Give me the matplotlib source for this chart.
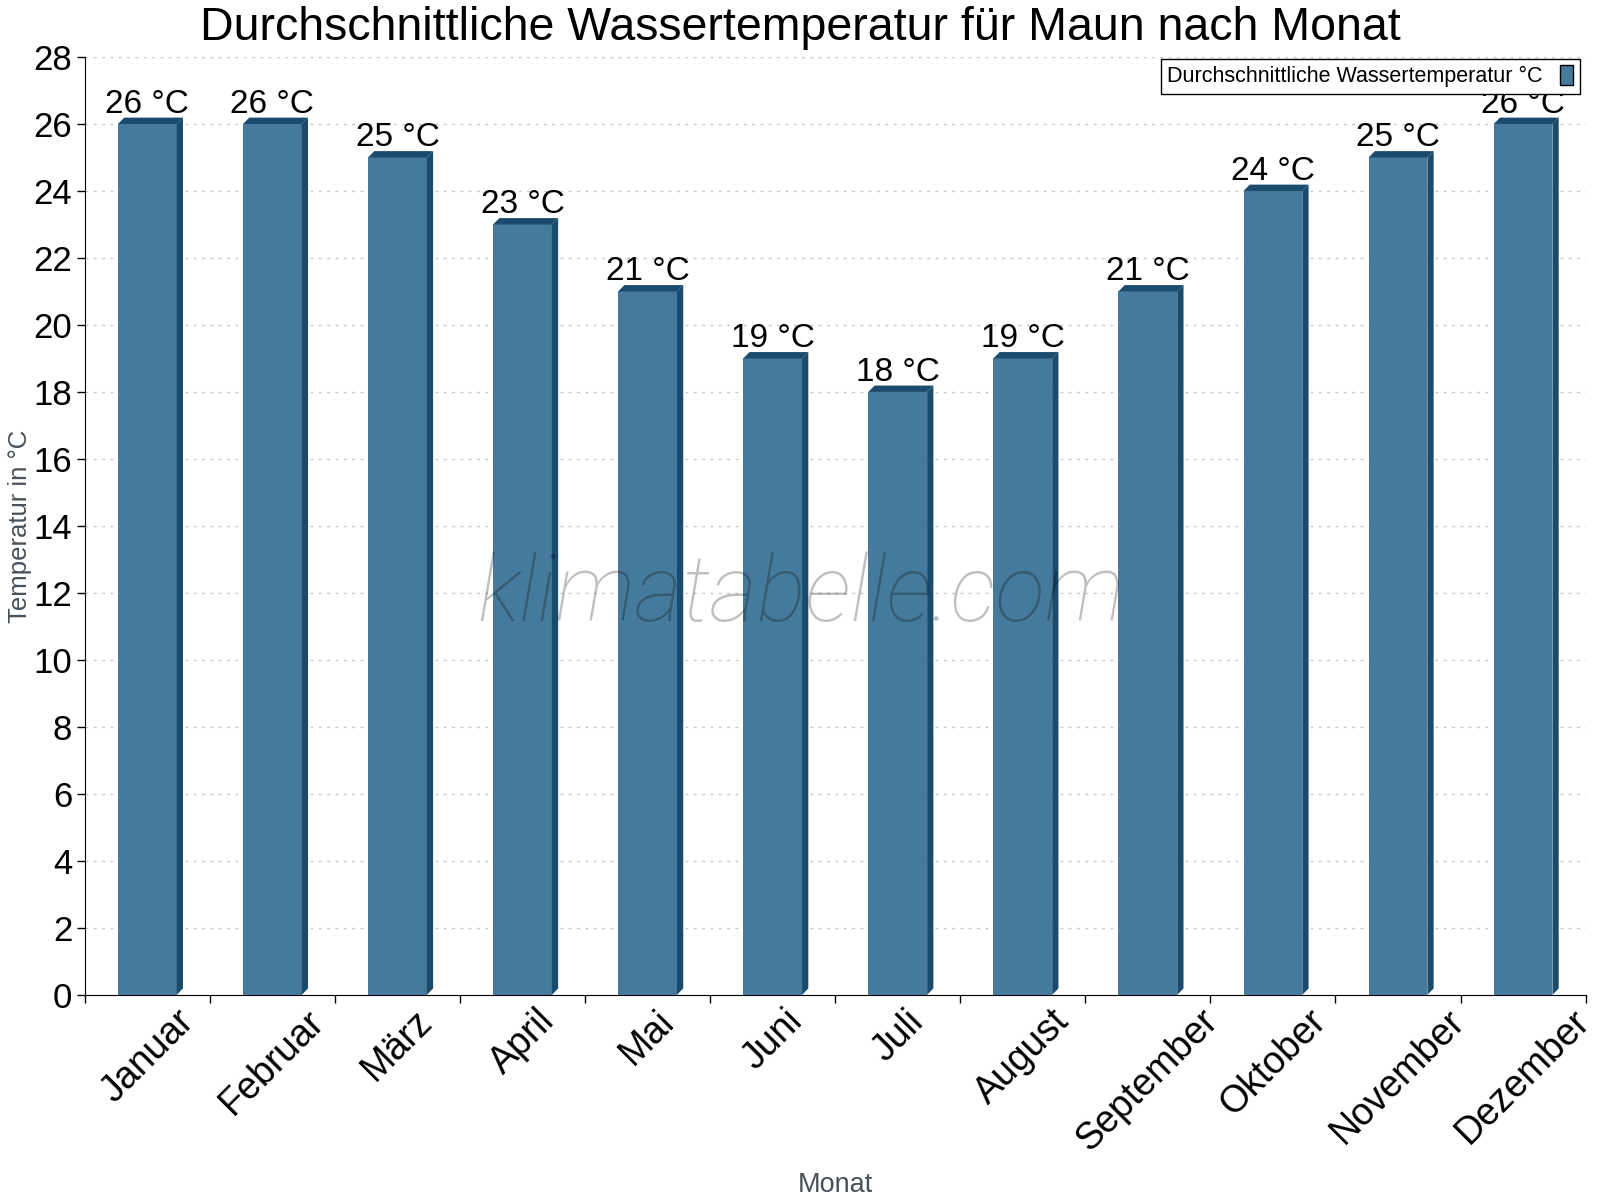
import matplotlib
matplotlib.use("Agg")
import matplotlib.pyplot as plt
from matplotlib.patches import Polygon, Patch

months = ["Januar", "Februar", "März", "April", "Mai", "Juni", "Juli",
          "August", "September", "Oktober", "November", "Dezember"]
water_temp = [26, 26, 25, 23, 21, 19, 18, 19, 21, 24, 25, 26]
y_ticks = list(range(0, 29, 2))

front_col = "#467a9c"
side_col = "#1a4a6c"
label_grey = "#4a5058"

plt.rcParams["font.family"] = ["Liberation Sans", "DejaVu Sans"]

fig = plt.figure(figsize=(16, 12), dpi=100)
ax = fig.add_axes([0.053, 0.171, 0.938, 0.7815])

x = list(range(len(months)))
bw = 0.47
ax.bar(x, water_temp, width=bw, color=front_col, zorder=3)

# fake 3d depth, about 6 px up and right
dx = 0.05
dy = 0.19
for xi, v in zip(x, water_temp):
    xl = xi - bw / 2
    xr = xi + bw / 2
    side = Polygon([(xr, 0), (xr, v), (xr + dx, v + dy), (xr + dx, dy)],
                   closed=True, facecolor=side_col, edgecolor="none", zorder=3)
    top = Polygon([(xl, v), (xl + dx, v + dy), (xr + dx, v + dy), (xr, v)],
                  closed=True, facecolor=side_col, edgecolor="none", zorder=3)
    ax.add_patch(side)
    ax.add_patch(top)
    ax.annotate(f"{v} °C", (xi, v), xytext=(0, 3), textcoords="offset points",
                ha="center", va="bottom", fontsize=24, zorder=5)

ax.set_xlim(-0.5, len(months) - 0.5)
ax.set_ylim(0, 28)
ax.set_yticks(y_ticks)
ax.tick_params(axis="y", labelsize=25, length=6, width=1, pad=3)

ax.set_xticks(x)
ax.set_xticklabels(months, rotation=45, ha="center", fontsize=27)
ax.set_xticks([i - 0.5 for i in range(len(months) + 1)], minor=True)
ax.tick_params(axis="x", which="major", length=0, pad=6)
ax.tick_params(axis="x", which="minor", length=6, width=1)

ax.grid(axis="y", linestyle=(0, (2, 4)), color="#c8c8c8", linewidth=1, zorder=0)
ax.spines["top"].set_visible(False)
ax.spines["right"].set_visible(False)

# title is centred on the figure, not the axes
ax.set_title("Durchschnittliche Wassertemperatur für Maun nach Monat",
             fontsize=33.5, pad=12, x=0.4767)
ax.set_ylabel("Temperatur in °C", fontsize=18.5, color=label_grey, labelpad=1)
ax.set_xlabel("Monat", fontsize=19.5, color=label_grey, labelpad=10)

ax.text(0.477, 0.426, "klimatabelle.com", transform=ax.transAxes,
        fontsize=66, family="Roboto", fontweight=100, style="italic",
        color="black", alpha=0.25, ha="center", va="center", zorder=4)

handle = Patch(facecolor=front_col, edgecolor="black", linewidth=1)
leg = ax.legend([handle], ["Durchschnittliche Wassertemperatur °C"],
                loc="upper right", bbox_to_anchor=(0.996, 0.998),
                borderaxespad=0, fontsize=15.5, markerfirst=False,
                fancybox=False, edgecolor="black", framealpha=1,
                handlelength=0.6, handleheight=1.0, borderpad=0.3,
                handletextpad=0.8)
leg.get_frame().set_linewidth(1)
leg.set_zorder(6)

fig.savefig("out.png", dpi=100)
